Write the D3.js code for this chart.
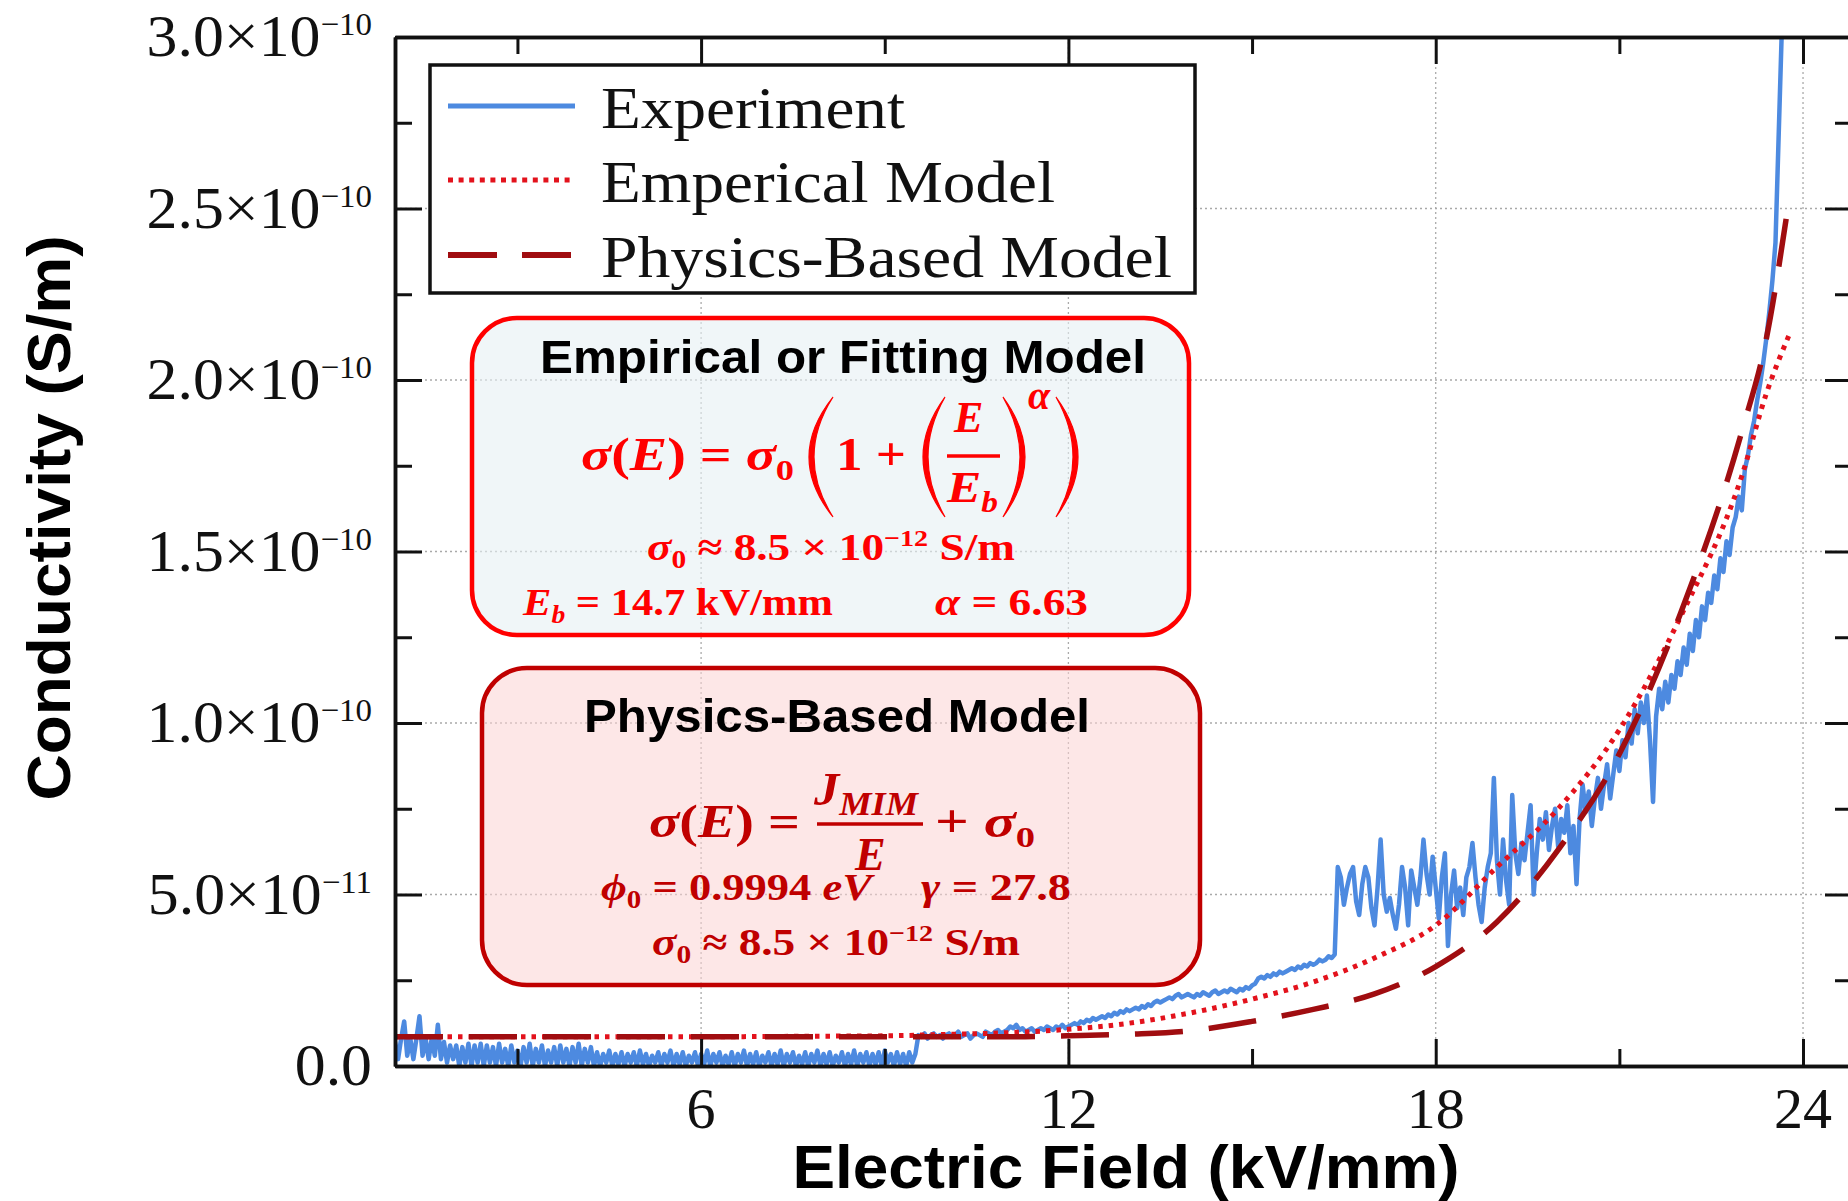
<!DOCTYPE html>
<html>
<head>
<meta charset="utf-8">
<script src="https://cdn.jsdelivr.net/npm/d3@7"></script>
<style>
  body { margin: 0; background: #fff; }
</style>
</head>
<body>
<div id="chart"></div>
<script>
// conductivity values are in units of 1e-10 S/m, field in kV/mm
const xMajorTicks = [6, 12, 18, 24];
const xMinorTicks = [3, 9, 15, 21];
const yMajorTicks = [0, 0.5, 1, 1.5, 2, 2.5, 3];
const yMinorTicks = [0.25, 0.75, 1.25, 1.75, 2.25, 2.75];
const yTickMain = ["0.0", "5.0×10", "1.0×10", "1.5×10", "2.0×10", "2.5×10", "3.0×10"];
const yTickExp = ["", "−11", "−10", "−10", "−10", "−10", "−10"];

// experiment: sampled every 0.05 kV/mm starting at 1.00 kV/mm
const expStart = 1.0;
const expStep = 0.05;
const expSigma = [
  0.07, 0.02, 0.08, 0.13, 0.03, 0.08, 0.02, 0.08, 0.145, 0.03,
  0.08, 0.02, 0.08, 0.03, 0.12, 0.02, 0.07, 0.01, 0.06, 0.02,
  0.06, 0.00, 0.055, 0.01, 0.065, 0.00, 0.06, 0.01, 0.065, 0.00,
  0.06, 0.01,
  0.055, 0.00, 0.065, 0.01, 0.05, 0.00, 0.06, 0.01, 0.045, 0.00,
  0.055, 0.01, 0.065, 0.00, 0.05, 0.01, 0.06, 0.00, 0.045, 0.01,
  0.055, 0.00, 0.06, 0.01, 0.05, 0.00, 0.055, 0.01, 0.065, 0.00,
  0.05, 0.01, 0.055, 0.00,
  0.04, 0.00, 0.035, 0.01, 0.045, 0.00, 0.035, 0.005, 0.04, 0.00,
  0.035, 0.01, 0.04, 0.00, 0.045, 0.005, 0.035, 0.00, 0.03, 0.01,
  0.04, 0.00, 0.035, 0.01, 0.045, 0.00, 0.035, 0.005, 0.04, 0.00,
  0.03, 0.01, 0.04, 0.00, 0.035, 0.005, 0.045, 0.00, 0.035, 0.01,
  0.04, 0.00, 0.03, 0.005, 0.04, 0.00, 0.035, 0.01, 0.045, 0.00,
  0.035, 0.005, 0.04, 0.00, 0.03, 0.01, 0.04, 0.00, 0.035, 0.005,
  0.045, 0.00, 0.035, 0.01, 0.04, 0.00, 0.03, 0.005, 0.04, 0.00,
  0.035, 0.01, 0.045, 0.00, 0.035, 0.005, 0.04, 0.00, 0.03, 0.01,
  0.04, 0.00, 0.035, 0.005, 0.045, 0.00, 0.035, 0.01, 0.04, 0.00,
  0.035, 0.005, 0.04, 0.00, 0.045, 0.01, 0.035, 0.00, 0.04, 0.005,
  0.035, 0.00, 0.04, 0.01, 0.035,
  0.09, 0.085, 0.095, 0.08, 0.09, 0.095, 0.085, 0.09, 0.08, 0.09,
  0.095, 0.085, 0.09, 0.10, 0.085, 0.09, 0.095, 0.08, 0.09, 0.095,
  0.09, 0.085, 0.10, 0.095, 0.09, 0.10, 0.105, 0.095, 0.10, 0.105,
  0.115, 0.11, 0.12, 0.105, 0.11, 0.10, 0.105, 0.11, 0.10, 0.105,
  0.11, 0.105, 0.115, 0.11, 0.105, 0.115, 0.11, 0.12, 0.11, 0.115,
  0.12, 0.125, 0.12, 0.13, 0.125, 0.135, 0.13, 0.14, 0.135, 0.14,
  0.145, 0.14, 0.15, 0.145, 0.155, 0.15, 0.16, 0.155, 0.165, 0.16,
  0.165, 0.17, 0.165, 0.175, 0.17, 0.18, 0.175, 0.185, 0.19, 0.185,
  0.19, 0.195, 0.20, 0.195, 0.205, 0.21, 0.20, 0.205, 0.21, 0.205,
  0.20, 0.21, 0.205, 0.215, 0.21, 0.205, 0.215, 0.22, 0.21, 0.215,
  0.22, 0.215, 0.225, 0.22, 0.215, 0.225, 0.22, 0.23, 0.225, 0.235,
  0.24, 0.255, 0.26, 0.255, 0.265, 0.26, 0.27, 0.265, 0.275, 0.27,
  0.275, 0.28, 0.285, 0.28, 0.29, 0.285, 0.295, 0.29, 0.30, 0.295,
  0.30, 0.31, 0.305, 0.31, 0.32, 0.315, 0.325,
  0.58, 0.55, 0.47, 0.52, 0.56, 0.58, 0.48, 0.44, 0.53, 0.58,
  0.55, 0.46, 0.41, 0.52, 0.66, 0.50, 0.45, 0.49, 0.44, 0.40,
  0.47, 0.58, 0.52, 0.41, 0.57, 0.52, 0.47, 0.55, 0.66, 0.56,
  0.50, 0.61, 0.52, 0.43, 0.55, 0.62, 0.35, 0.50, 0.57, 0.46,
  0.52, 0.44, 0.55, 0.58, 0.65, 0.55, 0.47, 0.42, 0.52, 0.58,
  0.62, 0.84, 0.60, 0.50, 0.66, 0.54, 0.47, 0.79, 0.62, 0.56,
  0.65, 0.60, 0.68, 0.76, 0.50, 0.62, 0.72, 0.66, 0.74, 0.63,
  0.70, 0.75, 0.64, 0.72, 0.68, 0.76, 0.62, 0.70, 0.53, 0.72,
  0.82, 0.74, 0.80, 0.70, 0.78, 0.84, 0.75, 0.82, 0.88, 0.78,
  0.85, 0.92, 0.86, 0.95, 0.90, 1.00, 0.94, 1.04, 0.97, 1.06,
  1.00, 1.08, 0.95, 0.77, 1.02, 1.10, 1.04, 1.12, 1.06, 1.14,
  1.10, 1.18, 1.14, 1.22, 1.17, 1.26, 1.21, 1.30, 1.25, 1.34,
  1.30, 1.38, 1.35, 1.43, 1.39, 1.48, 1.44, 1.53, 1.49, 1.57,
  1.60, 1.66, 1.62, 1.74, 1.78, 1.84, 1.88, 1.94, 1.99, 2.05,
  2.12, 2.20, 2.29, 2.40, 2.70, 3.00, 3.10
];

const empField = [1, 2, 3, 4, 5, 6, 7, 8, 9, 10, 11, 12, 13, 14, 15, 16, 17, 18, 19, 20, 21, 22, 23, 23.4, 23.77];
const empSigma = [0.085, 0.085, 0.085, 0.085, 0.085, 0.085, 0.086, 0.087, 0.088, 0.092, 0.097, 0.107, 0.125,
  0.155, 0.195, 0.245, 0.315, 0.41, 0.58, 0.75, 0.98, 1.31, 1.72, 1.96, 2.13];

const physField = [1, 2, 3, 4, 5, 6, 7, 8, 9, 10, 11, 12, 13, 14, 15, 16, 17, 18, 19, 20, 21, 22, 23, 23.4, 23.75];
const physSigma = [0.085, 0.085, 0.085, 0.085, 0.085, 0.085, 0.085, 0.085, 0.085, 0.085, 0.085, 0.088, 0.093,
  0.103, 0.13, 0.165, 0.21, 0.29, 0.42, 0.63, 0.91, 1.32, 1.85, 2.12, 2.50];

const legendLabels = ["Experiment", "Emperical Model", "Physics-Based Model"];

const margins = {top: 37, left: 395, right: 1852, bottom: 1066, width: 1848, height: 1201};
const expColor = "#4d8ae0";
const empColor = "#e3121c";
const physColor = "#a00d10";

const svg = d3.select("#chart")
    .append("svg")
    .attr("width", margins.width)
    .attr("height", margins.height)
    .style("display", "block");

svg.append("rect").attr("width", margins.width).attr("height", margins.height).attr("fill", "#fff");

const x = d3.scaleLinear().domain([1, 24.8]).range([margins.left, margins.right]);
const y = d3.scaleLinear().domain([0, 3]).range([margins.bottom, margins.top]);

// dotted grid
const grid = svg.append("g")
    .attr("stroke", "#a9a9a9")
    .attr("stroke-width", 1.3)
    .attr("stroke-dasharray", "2,3");
grid.selectAll(".gx").data(xMajorTicks).enter().append("line")
    .attr("x1", d => x(d)).attr("x2", d => x(d))
    .attr("y1", margins.top).attr("y2", margins.bottom);
grid.selectAll(".gy").data(yMajorTicks.filter(d => d > 0 && d < 3)).enter().append("line")
    .attr("y1", d => y(d)).attr("y2", d => y(d))
    .attr("x1", margins.left).attr("x2", margins.right);

// annotation boxes
const boxes = svg.append("g");
boxes.append("rect")
    .attr("x", 472).attr("y", 318).attr("width", 717).attr("height", 317)
    .attr("rx", 45).attr("ry", 45)
    .attr("fill", "#e6f0f3").attr("fill-opacity", 0.6)
    .attr("stroke", "#ff0000").attr("stroke-width", 4.5);
boxes.append("rect")
    .attr("x", 482).attr("y", 668).attr("width", 718).attr("height", 317)
    .attr("rx", 45).attr("ry", 45)
    .attr("fill", "#fcd3d3").attr("fill-opacity", 0.55)
    .attr("stroke", "#c00000").attr("stroke-width", 4.5);

function richText(g, px, py, parts, opts) {
    const t = g.append("text")
        .attr("x", px).attr("y", py)
        .attr("font-family", opts.family || "'Liberation Serif', 'Times New Roman', serif")
        .attr("font-size", opts.size)
        .attr("font-weight", opts.weight || "bold")
        .attr("fill", opts.color);
    if (opts.len) t.attr("textLength", opts.len).attr("lengthAdjust", "spacingAndGlyphs");
    let shift = 0;
    parts.forEach(p => {
        const s = p[0], f = p[1] || "";
        const ts = t.append("tspan").text(s);
        let target = 0;
        let size = opts.size;
        if (f.includes("sub")) { target = opts.size * 0.22; size = opts.size * (opts.subRatio || 0.65); }
        if (f.includes("sup")) { target = -opts.size * 0.38; size = opts.size * 0.62; }
        ts.attr("dy", target - shift).attr("font-size", size);
        if (f.includes("i")) ts.attr("font-style", "italic");
        shift = target;
    });
    return t;
}

function paren(g, x0, x1, y0, y1, left, color) {
    const mid = (y0 + y1) / 2;
    const th = 5;
    let d;
    if (left) {
        d = `M${x1},${y0} Q${2 * x0 - x1},${mid} ${x1},${y1} Q${2 * (x0 + th) - x1},${mid} ${x1},${y0} Z`;
    } else {
        d = `M${x0},${y0} Q${2 * x1 - x0},${mid} ${x0},${y1} Q${2 * (x1 - th) - x0},${mid} ${x0},${y0} Z`;
    }
    g.append("path").attr("d", d).attr("fill", color).attr("stroke", color).attr("stroke-width", 1.2);
}

const titleFont = "'Liberation Sans', Arial, sans-serif";
const red = "#ff0000";
const dark = "#c00000";

// empirical box
boxes.append("text")
    .attr("x", 540).attr("y", 373)
    .attr("font-family", titleFont).attr("font-weight", "bold").attr("font-size", 47)
    .attr("textLength", 606).attr("lengthAdjust", "spacingAndGlyphs")
    .text("Empirical or Fitting Model");
richText(boxes, 581, 470, [["σ", "i"], ["("], ["E", "i"], [") = "], ["σ", "i"], ["0", "sub"]],
    {size: 46, color: red, len: 213});
paren(boxes, 809, 833, 397, 517, true, red);
richText(boxes, 836, 470, [["1 +"]], {size: 46, color: red, len: 70});
paren(boxes, 923, 945, 397, 517, true, red);
richText(boxes, 954, 432, [["E", "i"]], {size: 44, color: red});
boxes.append("line").attr("x1", 947).attr("x2", 1000).attr("y1", 456).attr("y2", 456)
    .attr("stroke", red).attr("stroke-width", 3.5);
richText(boxes, 947, 502, [["E", "i"], ["b", "i sub"]], {size: 44, color: red, len: 51});
paren(boxes, 1003, 1025, 397, 517, false, red);
richText(boxes, 1028, 409, [["α", "i"]], {size: 40, color: red});
paren(boxes, 1056, 1078, 397, 517, false, red);
richText(boxes, 647, 560, [["σ", "i"], ["0", "sub"], [" ≈ 8.5 × 10"], ["−12", "sup"], [" S/m"]],
    {size: 38, color: red, len: 368});
richText(boxes, 523, 615, [["E", "i"], ["b", "i sub"], [" = 14.7 kV/mm"]], {size: 38, color: red, len: 310});
richText(boxes, 935, 615, [["α", "i"], [" = 6.63"]], {size: 38, color: red, len: 153});

// physics box
boxes.append("text")
    .attr("x", 584).attr("y", 732)
    .attr("font-family", titleFont).attr("font-weight", "bold").attr("font-size", 47)
    .attr("textLength", 506).attr("lengthAdjust", "spacingAndGlyphs")
    .text("Physics-Based Model");
richText(boxes, 649, 837, [["σ", "i"], ["("], ["E", "i"], [") ="]], {size: 46, color: dark, len: 151});
richText(boxes, 814, 805, [["J", "i"], ["MIM", "i sub"]], {size: 46, color: dark, len: 104, subRatio: 0.72});
boxes.append("line").attr("x1", 817).attr("x2", 923).attr("y1", 824).attr("y2", 824)
    .attr("stroke", dark).attr("stroke-width", 3.5);
richText(boxes, 855, 870, [["E", "i"]], {size: 46, color: dark});
richText(boxes, 935, 837, [["+ "], ["σ", "i"], ["0", "sub"]], {size: 46, color: dark, len: 100});
richText(boxes, 601, 900, [["ϕ", "i"], ["0", "sub"], [" = 0.9994 "], ["eV", "i"]], {size: 38, color: dark, len: 271});
richText(boxes, 921, 900, [["γ", "i"], [" = 27.8"]], {size: 38, color: dark, len: 150});
richText(boxes, 652, 955, [["σ", "i"], ["0", "sub"], [" ≈ 8.5 × 10"], ["−12", "sup"], [" S/m"]],
    {size: 38, color: dark, len: 368});

// data lines
svg.append("clipPath").attr("id", "plotClip")
    .append("rect")
    .attr("x", margins.left).attr("y", margins.top)
    .attr("width", margins.right - margins.left).attr("height", margins.bottom - margins.top);

const plot = svg.append("g").attr("clip-path", "url(#plotClip)");

const expLine = d3.line()
    .x((d, i) => x(expStart + i * expStep))
    .y(d => y(d));
plot.append("path")
    .datum(expSigma)
    .attr("d", expLine)
    .attr("fill", "none")
    .attr("stroke", expColor)
    .attr("stroke-width", 4.5)
    .attr("stroke-linejoin", "round");

const modelLine = d3.line()
    .x(d => x(d[0]))
    .y(d => y(d[1]))
    .curve(d3.curveMonotoneX);

plot.append("path")
    .datum(empField.map((f, i) => [f, empSigma[i]]))
    .attr("d", modelLine)
    .attr("fill", "none")
    .attr("stroke", empColor)
    .attr("stroke-width", 5)
    .attr("stroke-dasharray", "4.5,6");

plot.append("path")
    .datum(physField.map((f, i) => [f, physSigma[i]]))
    .attr("d", modelLine)
    .attr("fill", "none")
    .attr("stroke", physColor)
    .attr("stroke-width", 5.5)
    .attr("stroke-dasharray", "48,26");

// legend
const legend = svg.append("g");
legend.append("rect")
    .attr("x", 430).attr("y", 65).attr("width", 765).attr("height", 228)
    .attr("fill", "#fff").attr("stroke", "#111").attr("stroke-width", 3.5);
const legendStyles = [
    {color: expColor, width: 5, dash: null, y: 106, base: 128, len: 304},
    {color: empColor, width: 5, dash: "5,5.6", y: 180, base: 202, len: 454},
    {color: physColor, width: 6, dash: "49,25", y: 255, base: 277, len: 571}
];
legendLabels.forEach((lab, i) => {
    const s = legendStyles[i];
    legend.append("line")
        .attr("x1", 448).attr("x2", 575).attr("y1", s.y).attr("y2", s.y)
        .attr("stroke", s.color).attr("stroke-width", s.width)
        .attr("stroke-dasharray", s.dash);
    legend.append("text")
        .attr("x", 601).attr("y", s.base)
        .attr("font-family", "'Liberation Serif', 'Times New Roman', serif")
        .attr("font-size", 60)
        .attr("fill", "#111")
        .attr("textLength", s.len).attr("lengthAdjust", "spacingAndGlyphs")
        .text(lab);
});

// axes with inward ticks on all four sides
function styleAxis(g) {
    g.selectAll("path.domain").attr("stroke", "#111").attr("stroke-width", 3.5);
    g.selectAll(".tick line").attr("stroke", "#111").attr("stroke-width", 3);
    g.selectAll(".tick text").remove();
}
const axes = svg.append("g");
axes.append("g").attr("transform", `translate(0,${margins.bottom})`)
    .call(d3.axisBottom(x).tickValues(xMajorTicks).tickSize(-27).tickSizeOuter(0).tickFormat("")).call(styleAxis);
axes.append("g").attr("transform", `translate(0,${margins.bottom})`)
    .call(d3.axisBottom(x).tickValues(xMinorTicks).tickSize(-17).tickSizeOuter(0).tickFormat("")).call(styleAxis);
axes.append("g").attr("transform", `translate(0,${margins.top})`)
    .call(d3.axisTop(x).tickValues(xMajorTicks).tickSize(-27).tickSizeOuter(0).tickFormat("")).call(styleAxis);
axes.append("g").attr("transform", `translate(0,${margins.top})`)
    .call(d3.axisTop(x).tickValues(xMinorTicks).tickSize(-17).tickSizeOuter(0).tickFormat("")).call(styleAxis);
axes.append("g").attr("transform", `translate(${margins.left},0)`)
    .call(d3.axisLeft(y).tickValues(yMajorTicks).tickSize(-27).tickSizeOuter(0).tickFormat("")).call(styleAxis);
axes.append("g").attr("transform", `translate(${margins.left},0)`)
    .call(d3.axisLeft(y).tickValues(yMinorTicks).tickSize(-17).tickSizeOuter(0).tickFormat("")).call(styleAxis);
axes.append("g").attr("transform", `translate(${margins.right},0)`)
    .call(d3.axisRight(y).tickValues(yMajorTicks).tickSize(-27).tickSizeOuter(0).tickFormat("")).call(styleAxis);
axes.append("g").attr("transform", `translate(${margins.right},0)`)
    .call(d3.axisRight(y).tickValues(yMinorTicks).tickSize(-17).tickSizeOuter(0).tickFormat("")).call(styleAxis);

// tick labels
const serif = "'Liberation Serif', 'Times New Roman', serif";
axes.selectAll(".xlab").data(xMajorTicks).enter().append("text")
    .attr("x", d => x(d)).attr("y", 1128)
    .attr("text-anchor", "middle")
    .attr("font-family", serif).attr("font-size", 58).attr("fill", "#111")
    .text(d => d);

yMajorTicks.forEach((v, i) => {
    const t = axes.append("text")
        .attr("transform", `translate(372,${y(v) + 19}) scale(1.03,1)`)
        .attr("text-anchor", "end")
        .attr("font-family", serif).attr("font-size", 60).attr("fill", "#111");
    t.append("tspan").text(yTickMain[i]);
    if (yTickExp[i]) {
        t.append("tspan").attr("dy", -21).attr("font-size", 32).text(yTickExp[i]);
    }
});

// axis titles
const sansBold = "'Liberation Sans', Arial, sans-serif";
svg.append("text")
    .attr("x", 1126).attr("y", 1188)
    .attr("text-anchor", "middle")
    .attr("font-family", sansBold).attr("font-weight", "bold").attr("font-size", 61)
    .attr("textLength", 667).attr("lengthAdjust", "spacingAndGlyphs")
    .text("Electric Field (kV/mm)");
svg.append("text")
    .attr("transform", "translate(70,518) rotate(-90)")
    .attr("text-anchor", "middle")
    .attr("font-family", sansBold).attr("font-weight", "bold").attr("font-size", 61)
    .attr("textLength", 565).attr("lengthAdjust", "spacingAndGlyphs")
    .text("Conductivity (S/m)");
</script>
</body>
</html>
